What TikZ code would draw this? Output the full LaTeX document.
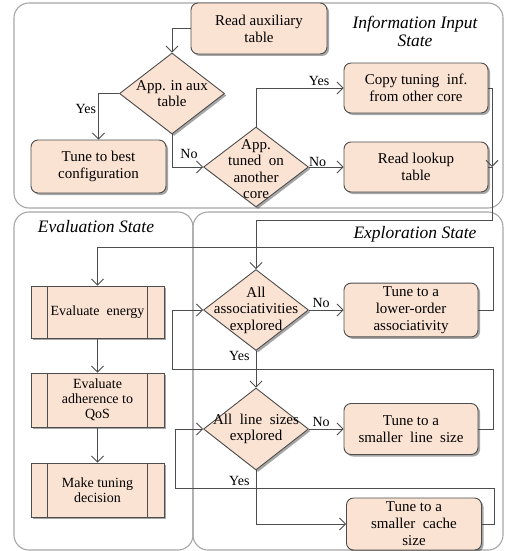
\documentclass[tikz,border=0pt]{standalone}
\usepackage{fontspec}
\setmainfont{Liberation Serif}
\usepackage{tikz}
\usetikzlibrary{positioning,arrows.meta,calc,shapes.geometric,shadows}
\usepackage{xcolor}
\definecolor{boxfill}{HTML}{FBE3D3}
\definecolor{linegray}{HTML}{4D4D4D}
\definecolor{regiongray}{HTML}{A6A6A6}

\tikzset{
  region/.style={draw=regiongray,line width=1.1pt,rounded corners=15pt},
  statelbl/.style={font=\fontsize{17.5}{18}\selectfont\itshape,align=center},
  procbox/.style={draw=linegray,fill=boxfill,rounded corners=7pt,line width=0.9pt,
    align=center,font=\fontsize{15}{17}\selectfont,
    drop shadow={shadow xshift=2pt,shadow yshift=-2pt,opacity=0.35,fill=black}},
  evalbox/.style={draw=linegray,fill=boxfill,line width=0.9pt,minimum width=133pt,minimum height=54pt,
    align=center,font=\fontsize{14}{15}\selectfont,
    drop shadow={shadow xshift=2pt,shadow yshift=-2pt,opacity=0.35,fill=black}},
  decision/.style={diamond,draw=linegray,fill=boxfill,line width=0.9pt,inner sep=0pt,
    minimum width=105pt,minimum height=81pt,
    drop shadow={shadow xshift=2pt,shadow yshift=-2pt,opacity=0.35,fill=black}},
  dtext/.style={align=center,font=\fontsize{15}{16.5}\selectfont},
  lbl/.style={font=\fontsize{14}{15}\selectfont,inner sep=2pt},
  arr/.style={-{Straight Barb[length=6pt,width=12pt]},draw=linegray,line width=0.9pt},
  wire/.style={draw=linegray,line width=0.9pt}
}

\begin{document}
\begin{tikzpicture}[x=1pt,y=-1pt]
  \useasboundingbox (0,0) rectangle (510,551);
  % state regions
  \draw[region] (14,3) rectangle (503,208);
  \draw[region] (14,212) rectangle (193,550);
  \draw[region] (193,212) rectangle (503,550);
  \node[statelbl] (infostate) at (415,31) {Information Input\\State};
  \node[statelbl] (evalstate) at (96,227) {Evaluation State};
  \node[statelbl] (explstate) at (415,234) {Exploration State};

  % information input
  \node[procbox,minimum width=136pt,minimum height=51pt] (readaux) at (259,28.5) {Read auxiliary\\table};
  \node[decision] (appaux) at (172,93.5) {};
  \node[dtext] (appauxtxt) at (appaux) {App. in aux\\table};
  \node[procbox,minimum width=135pt,minimum height=53pt] (tunebest) at (98.5,166.5) {Tune to best\\configuration};
  \node[decision,minimum height=80pt] (apptuned) at (256,167) {};
  \node[dtext] (apptunedtxt) at (256,169) {App.\\tuned\ \ on\\another\\core};
  \node[procbox,minimum width=144pt,minimum height=50pt] (copy) at (416,88) {Copy tuning\ \ inf.\\from other core};
  \node[procbox,minimum width=144pt,minimum height=50pt] (lookup) at (416,167) {Read lookup\\table};

  % evaluation
  \node[evalbox,minimum height=52pt] (evalenergy) at (97.5,312) {Evaluate\ \ energy};
  \node[evalbox] (evalqos) at (97.5,400) {Evaluate\\adherence to\\QoS};
  \node[evalbox] (decide) at (97.5,490) {Make tuning\\decision};
  \foreach \n in {evalenergy,evalqos,decide}{
    \draw[wire] ([xshift=17pt]\n.north west)--([xshift=17pt]\n.south west);
    \draw[wire] ([xshift=-17pt]\n.north east)--([xshift=-17pt]\n.south east);}

  % exploration
  \node[decision] (assoc) at (256,310) {};
  \node[dtext] (assoctxt) at (assoc) {All\\associativities\\explored};
  \node[procbox,minimum width=134pt,minimum height=53pt] (lowerorder) at (411,310) {Tune to a\\lower-order\\associativity};
  \node[decision,minimum height=82pt] (linesize) at (256,429) {};
  \node[dtext] (linesizetxt) at (linesize) {All\ \ line\ \ sizes\\explored};
  \node[procbox,minimum width=134pt,minimum height=51pt] (smallline) at (411,429) {Tune to a\\smaller\ \ line\ \ size};
  \node[procbox,minimum width=135pt,minimum height=52pt] (cache) at (414,524) {Tune to a\\smaller\ \ cache\\size};

  \coordinate (join) at (492,167);
  \coordinate (r0) at (492,220);
  \coordinate (r1) at (493,247);
  \coordinate (r2) at (493,369);
  \coordinate (l2) at (172,310);
  \coordinate (r3) at (494,488);
  \coordinate (l3) at (175,429);

  % connectors
  \draw[arr] (readaux.west)-|(appaux.north);
  \draw[arr] (appaux.west)-|node[lbl,pos=0.67,left]{Yes}(tunebest.north);
  \draw[arr] (appaux.south)|-node[lbl,pos=0.3,right=6pt]{No}(apptuned.west);
  \draw[arr] (apptuned.north)|-node[lbl,pos=0.86,above]{Yes}(copy.west);
  \draw[arr] (apptuned.east)--node[lbl,pos=0.25,above=-2pt]{No}(lookup.west);
  \draw[arr] (copy.east)-|(join);
  \draw[arr] (lookup.east)--(join)--(r0)-|(assoc.north);
  \draw[arr] (lowerorder.east)-|(r1)-|(evalenergy.north);
  \draw[arr] (evalenergy)--(evalqos);
  \draw[arr] (evalqos)--(decide);
  \draw[arr] (assoc.east)--node[lbl,pos=0.35,above]{No}(lowerorder.west);
  \draw[arr] (assoc.south)--node[lbl,pos=0.15,left=4pt]{Yes}(linesize.north);
  \draw[arr] (smallline.east)-|(r2)-|(l2)--(assoc.west);
  \draw[arr] (linesize.east)--node[lbl,pos=0.35,above]{No}(smallline.west);
  \draw[arr] (linesize.south)|-node[lbl,pos=0.1,left=4pt]{Yes}(cache.west);
  \draw[arr] (cache.east)-|(r3)-|(l3)--(linesize.west);
\end{tikzpicture}
\end{document}
